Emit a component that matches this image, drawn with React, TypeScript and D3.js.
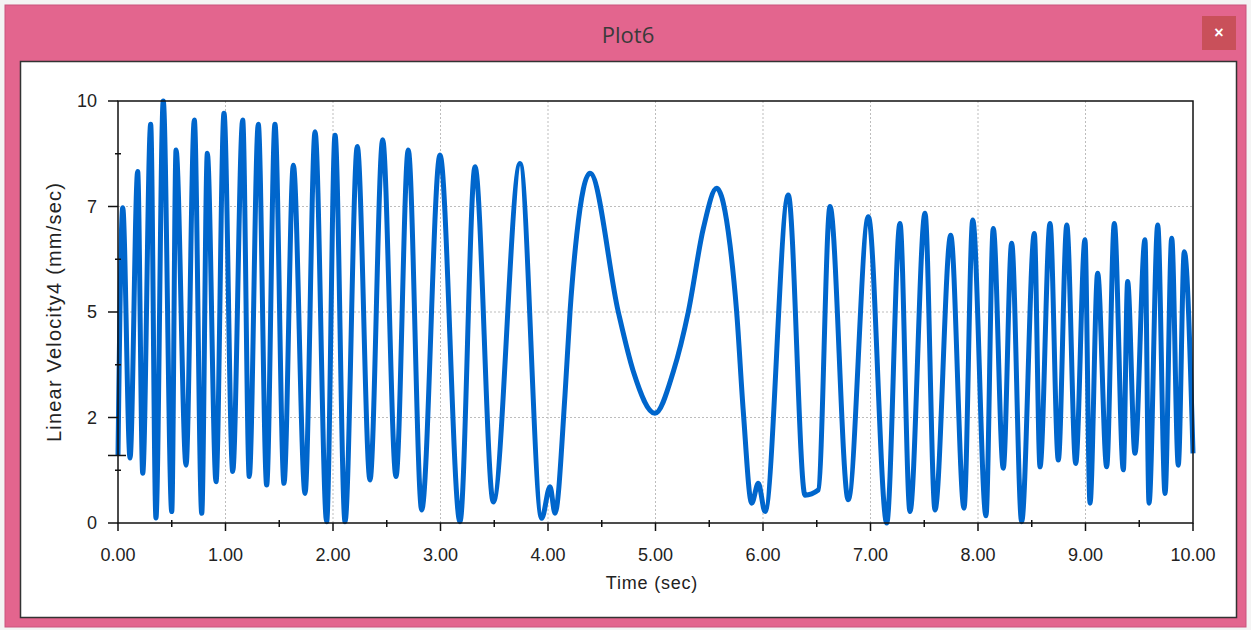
import * as d3 from "d3";

const times = [
  0, 0.044, 0.112, 0.183, 0.23, 0.304, 0.353, 0.421, 0.5, 0.54, 0.633, 0.71, 0.779, 0.831, 0.912, 0.986,
  1.067, 1.16, 1.221, 1.305, 1.383, 1.46, 1.544, 1.631, 1.74, 1.833, 1.941, 2.019, 2.112, 2.226, 2.344,
  2.462, 2.586, 2.7, 2.825, 2.995, 3.181, 3.321, 3.491, 3.74, 3.941, 4.019, 4.065, 4.158, 4.205, 4.267,
  4.391, 4.654, 4.794, 4.995, 5.166, 5.305, 5.445, 5.569, 5.693, 5.755, 5.817, 5.895, 5.956, 6.019,
  6.235, 6.391, 6.514, 6.623, 6.793, 6.98, 7.151, 7.274, 7.367, 7.507, 7.6, 7.746, 7.87, 7.951, 8.074,
  8.142, 8.235, 8.313, 8.406, 8.524, 8.577, 8.67, 8.747, 8.826, 8.909, 8.995, 9.042, 9.113, 9.197,
  9.268, 9.352, 9.392, 9.46, 9.553, 9.591, 9.672, 9.74, 9.802, 9.863, 9.919, 10.0,
];

const velocity = [
  1.6, 7.47, 1.54, 8.33, 1.18, 9.45, 0.12, 10.0, 0.27, 8.84, 1.37, 9.55, 0.23, 8.76, 0.98, 9.71,
  1.22, 9.55, 1.1, 9.45, 0.9, 9.45, 0.94, 8.48, 0.7, 9.27, 0.03, 9.19, 0.03, 8.92, 1.02,
  9.08, 1.1, 8.84, 0.31, 8.72, 0.03, 8.44, 0.5, 8.52, 0.11, 0.86, 0.23, 3.03, 5.01, 6.82,
  8.29, 5.0, 3.59, 2.6, 3.59, 5.0, 6.98, 7.93, 6.59, 5.0, 2.63, 0.47, 0.94, 0.27,
  7.77, 0.66, 0.78, 7.5, 0.55, 7.26, 0.0, 7.1, 0.27, 7.34, 0.31, 6.82, 0.35, 7.18, 0.17,
  6.98, 1.3, 6.63, 0.03, 6.86, 1.33, 7.1, 1.49, 7.06, 1.41, 6.71, 0.47, 5.92, 1.33,
  7.1, 1.26, 5.72, 1.65, 6.71, 0.47, 7.06, 0.7, 6.75, 1.37, 6.43, 1.65,
];

const xTicks = [0, 1, 2, 3, 4, 5, 6, 7, 8, 9, 10];
const xMinorTicks = [0.5, 1.5, 2.5, 3.5, 4.5, 5.5, 6.5, 7.5, 8.5, 9.5];
const yTicks = [0, 2.5, 5, 7.5, 10];
const yMinorTicks = [1.25, 3.75, 6.25, 8.75];

const plotTitle = "Plot6";
const xTitle = "Time (sec)";
const yTitle = "Linear Velocity4 (mm/sec)";

const W = 1251;
const H = 630;
const margin = { left: 118, top: 101, right: 1193, bottom: 523 };
const font = "'Liberation Sans', Arial, sans-serif";

const App = () => {
  const x = d3.scaleLinear().domain([0, 10]).range([margin.left, margin.right]);
  const y = d3.scaleLinear().domain([0, 10]).range([margin.bottom, margin.top]);

  const points = times.map((t, i) => [t, velocity[i]] as [number, number]);
  const line = d3
    .line<[number, number]>()
    .x((d) => x(d[0]))
    .y((d) => y(d[1]))
    .curve(d3.curveMonotoneX);

  return (
    <svg
      width={W}
      height={H}
      style={{ position: "absolute", left: 0, top: 0, background: "#f4f4f4" }}
    >
      {/* window frame */}
      <rect x={5} y={5} width={1241} height={622} fill="#e3658e" stroke="#c9557c" />
      <text
        x={628}
        y={43}
        textAnchor="middle"
        fontFamily="'Open Sans', 'Noto Sans', sans-serif"
        fontSize={22}
        fill="#3a3a3a"
      >
        {plotTitle}
      </text>
      <rect x={1202} y={16} width={34} height={34} fill="#c9505a" />
      <text
        x={1219}
        y={38}
        textAnchor="middle"
        fontFamily={font}
        fontWeight="bold"
        fontSize={16}
        fill="#ffffff"
      >
        ×
      </text>
      <rect x={20.5} y={61.5} width={1216} height={556} fill="#ffffff" stroke="#333" strokeWidth={1.5} />

      {/* grid */}
      {xTicks.slice(1, -1).map((t) => (
        <line
          key={"gx" + t}
          x1={x(t)}
          x2={x(t)}
          y1={margin.top}
          y2={margin.bottom}
          stroke="#bdbdbd"
          strokeDasharray="2,2"
        />
      ))}
      {yTicks.slice(1, -1).map((t) => (
        <line
          key={"gy" + t}
          x1={margin.left}
          x2={margin.right}
          y1={y(t)}
          y2={y(t)}
          stroke="#bdbdbd"
          strokeDasharray="2,2"
        />
      ))}

      {/* data */}
      <path
        d={line(points) ?? ""}
        fill="none"
        stroke="#0066cc"
        strokeWidth={5}
        strokeLinejoin="round"
      />

      {/* frame and axes */}
      <rect
        x={margin.left}
        y={margin.top}
        width={margin.right - margin.left}
        height={margin.bottom - margin.top}
        fill="none"
        stroke="#111"
        strokeWidth={1.5}
      />
      {xTicks.map((t) => (
        <g key={"xt" + t}>
          <line x1={x(t)} x2={x(t)} y1={margin.bottom} y2={margin.bottom + 8} stroke="#111" strokeWidth={1.5} />
          <text
            x={x(t)}
            y={561}
            textAnchor="middle"
            fontFamily={font}
            fontSize={18}
            fill="#222"
          >
            {t.toFixed(2)}
          </text>
        </g>
      ))}
      {xMinorTicks.map((t) => (
        <line
          key={"xm" + t}
          x1={x(t)}
          x2={x(t)}
          y1={margin.bottom - 3}
          y2={margin.bottom + 4}
          stroke="#111"
          strokeWidth={1.5}
        />
      ))}
      {yTicks.map((t) => (
        <g key={"yt" + t}>
          <line x1={margin.left - 10} x2={margin.left} y1={y(t)} y2={y(t)} stroke="#111" strokeWidth={1.5} />
          <text
            x={97}
            y={y(t) + 6}
            textAnchor="end"
            fontFamily={font}
            fontSize={18}
            fill="#222"
          >
            {Math.floor(t)}
          </text>
        </g>
      ))}
      {yMinorTicks.map((t) => (
        <line
          key={"ym" + t}
          x1={margin.left - 3}
          x2={margin.left + 3}
          y1={y(t)}
          y2={y(t)}
          stroke="#111"
          strokeWidth={1.5}
        />
      ))}
      {/* start marker at the first sample */}
      <line
        x1={margin.left - 10}
        x2={margin.left + 8}
        y1={y(velocity[0])}
        y2={y(velocity[0])}
        stroke="#111"
        strokeWidth={1.5}
      />

      <text
        x={652}
        y={589}
        textAnchor="middle"
        fontFamily={font}
        fontSize={18}
        letterSpacing={0.8}
        fill="#222"
      >
        {xTitle}
      </text>
      <text
        transform={`translate(61,312) rotate(-90)`}
        textAnchor="middle"
        fontFamily={font}
        fontSize={20}
        letterSpacing={1.2}
        fill="#222"
      >
        {yTitle}
      </text>
    </svg>
  );
};

export default App;
